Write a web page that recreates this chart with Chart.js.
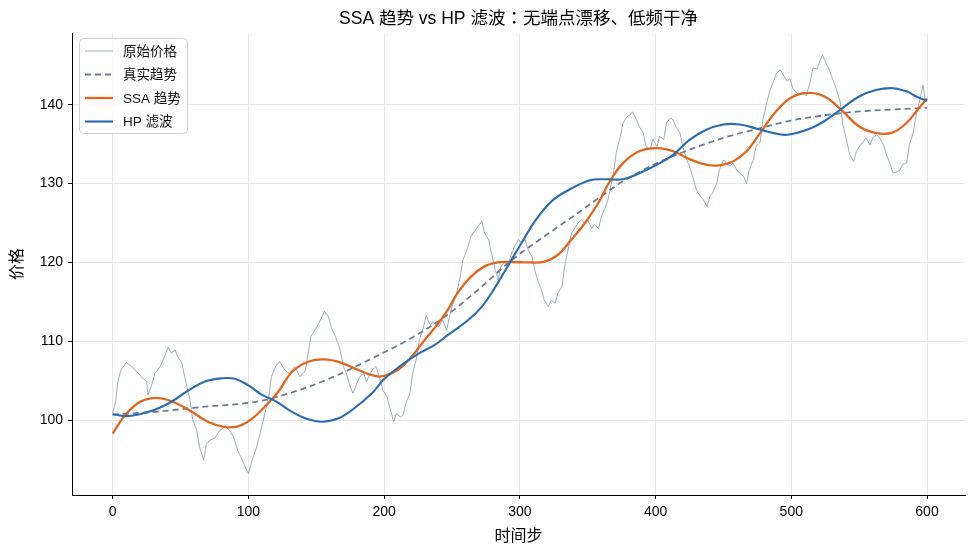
<!DOCTYPE html>
<html>
<head>
<meta charset="utf-8">
<title>SSA 趋势 vs HP 滤波</title>
<script src="https://cdn.jsdelivr.net/npm/chart.js@4.4.1/dist/chart.umd.min.js"></script>
<style>
  html, body { margin: 0; padding: 0; background: #fff; }
  #wrap { width: 975px; height: 557px; }
</style>
</head>
<body>
<div id="wrap"><canvas id="chart" width="975" height="557"></canvas></div>
<script>
// 原始价格 (~every 2-3 steps)
const rawSteps = [0,2,4,6,10,14,17,21,25,26,29,31,35,38,41,43,46,48,51,53,57,59,62,64,67,69,72,75,79,83,86,89,92,96,100,102,106,108,111,115,117,120,123,127,130,134,138,142,144,146,149,153,156,159,161,164,167,170,172,175,177,180,182,185,187,191,194,197,199,202,204,207,209,212,214,216,219,221,224,226,229,231,234,236,240,243,246,248,250,253,256,258,261,264,268,272,274,277,279,282,284,286,289,291,294,296,299,301,304,306,309,311,313,316,318,321,323,326,328,331,333,336,338,341,343,345,348,350,353,355,358,360,363,365,366,369,371,374,376,379,381,383,386,388,391,393,396,398,401,403,406,408,411,413,415,418,420,423,425,428,430,433,435,438,440,442,445,447,450,452,455,457,460,462,465,467,469,472,474,477,479,482,484,487,489,492,494,497,499,501,504,506,509,511,514,516,519,521,523,526,528,531,533,536,538,541,543,546,548,551,553,555,558,560,563,565,568,570,573,575,578,580,582,585,587,590,592,595,597,599,600];
const rawPrice = [100.9,102.2,105.1,106.3,107.3,106.8,106.3,105.5,104.9,103.2,104.6,105.9,106.8,108.0,109.3,108.5,108.9,108.0,107.2,105.5,102.5,100.0,98.7,96.6,94.9,97.0,97.5,97.7,98.7,99.2,98.7,97.9,96.2,94.7,93.2,94.5,96.6,97.9,100.0,103.0,105.5,106.8,107.4,106.3,105.9,106.8,105.5,106.3,108.5,110.6,111.4,112.7,113.8,113.1,111.8,110.6,109.3,106.8,106.0,104.2,103.4,104.7,105.5,105.9,104.9,106.3,106.8,105.1,103.8,103.0,101.7,99.8,100.8,100.4,100.6,102.1,103.4,105.9,108.0,110.2,111.8,113.3,112.0,112.5,111.8,112.7,111.4,113.0,114.4,115.7,118.2,120.3,121.6,123.3,124.3,125.2,123.7,122.9,121.2,119.0,117.8,119.5,120.0,119.5,121.2,122.0,122.9,122.5,122.9,121.6,120.7,119.0,117.8,116.5,115.2,114.4,115.2,114.8,116.1,116.9,119.5,122.0,123.7,124.5,125.0,125.4,125.0,125.4,124.3,124.8,124.3,125.8,127.0,128.0,128.8,131.3,133.9,136.0,137.7,138.5,138.7,139.1,138.1,137.2,136.4,134.7,134.3,135.6,134.7,136.0,135.6,137.7,138.3,138.1,137.2,136.4,134.7,133.0,132.2,130.5,129.2,128.4,128.0,127.1,128.4,128.8,130.0,131.7,133.0,132.6,132.2,132.6,131.7,131.3,130.9,130.0,131.7,133.0,134.7,135.2,138.0,140.3,141.7,143.0,144.0,144.4,143.8,143.0,143.3,142.1,141.5,141.3,141.5,141.1,143.0,144.7,144.5,145.5,146.3,145.1,144.4,143.0,142.1,140.4,137.5,135.3,133.7,132.8,134.1,134.9,135.3,135.8,134.9,135.8,136.2,135.8,134.9,133.7,132.4,131.3,131.5,131.7,132.4,132.6,134.9,136.6,138.7,140.8,142.5,140.4,140.6];

// 真实趋势
const trendSteps = [0,31,68,105,120,144,168,193,218,243,269,294,318,343,376,401,425,450,474,500,526,550,575,600];
const trendPrice = [100.7,101.05,101.7,102.3,102.9,104.2,105.9,108.0,110.2,112.9,116.5,120.3,123.3,126.3,130.3,132.6,134.3,135.8,136.9,138.0,138.7,139.15,139.4,139.6];

// SSA 趋势
const ssaSteps = [0,9,19,28,36,46,58,70,82,92,102,112,122,132,144,156,168,181,193,200,210,220,230,240,247,254,264,274,284,294,306,318,328,338,348,358,366,376,388,401,413,425,437,447,457,467,477,489,501,514,526,538,550,563,575,585,592,600];
const ssaPrice = [98.3,100.6,102.2,102.75,102.75,102.2,101.1,99.8,99.15,99.2,100.1,101.7,103.6,106.1,107.4,107.7,107.3,106.35,105.6,105.6,106.35,108.0,110.2,112.3,114.0,116.1,118.2,119.5,120.0,120.05,120.0,120.1,120.95,122.9,125.0,127.6,130.2,132.6,134.1,134.5,134.1,133.1,132.4,132.3,132.8,134.1,136.4,139.2,141.0,141.5,140.9,139.15,137.25,136.4,136.5,137.7,139.15,140.8];

// HP 滤波
const hpSteps = [0,9,19,31,43,56,68,80,90,100,110,120,132,144,154,166,178,191,200,213,225,237,247,262,272,282,291,301,311,323,334,351,364,376,388,401,413,425,437,450,462,474,487,497,514,526,538,550,563,575,585,592,600];
const hpPrice = [100.76,100.5,100.7,101.3,102.3,103.8,104.9,105.3,105.25,104.4,103.2,102.4,101.05,100.1,99.8,100.2,101.5,103.4,105.2,107.0,108.4,109.5,110.8,112.7,114.4,116.9,119.5,122.4,125.2,127.7,129.0,130.4,130.55,130.55,131.3,132.4,133.65,135.55,136.8,137.5,137.5,137.0,136.4,136.2,137.0,138.1,139.6,141.05,141.9,142.1,141.7,141.05,140.5];

const xTicks = [0, 100, 200, 300, 400, 500, 600];
const yTicks = [100, 110, 120, 130, 140];

const chartTitle = 'SSA 趋势 vs HP 滤波：无端点漂移、低频干净';
const FONT = "'Liberation Sans', 'Noto Sans CJK SC', sans-serif";
const TITLE_FONT = "'Liberation Sans', 'Noto Sans CJK JP', sans-serif";

function toPoints(xs, ys) {
    return xs.map((x, i) => ({ x: x, y: ys[i] }));
}

// title centred over the plot area, legend box top-left inside the plot
const decorations = {
    id: 'decorations',
    afterDatasetsDraw(chart) {
        const ctx = chart.ctx;
        const area = chart.chartArea;
        ctx.save();
        ctx.fillStyle = '#000';
        ctx.font = '17.5px ' + TITLE_FONT;
        ctx.textAlign = 'center';
        ctx.textBaseline = 'middle';
        ctx.fillText(chartTitle, (area.left + area.right) / 2, 19);

        const x0 = area.left + 7;
        const y0 = area.top + 5;
        ctx.beginPath();
        ctx.roundRect(x0 + 0.5, y0 + 0.5, 108, 95, 4);
        ctx.fillStyle = 'rgba(255,255,255,0.85)';
        ctx.fill();
        ctx.strokeStyle = '#d0d0d0';
        ctx.lineWidth = 1;
        ctx.stroke();
        ctx.textAlign = 'left';
        chart.data.datasets.forEach((ds, i) => {
            const y = y0 + 13 + i * 23.5;
            ctx.beginPath();
            ctx.setLineDash(ds.borderDash || []);
            ctx.strokeStyle = ds.borderColor;
            ctx.lineWidth = ds.borderWidth;
            ctx.moveTo(x0 + 6, y);
            ctx.lineTo(x0 + 34, y);
            ctx.stroke();
            ctx.setLineDash([]);
            ctx.fillStyle = '#111';
            ctx.font = '13.5px ' + FONT;
            ctx.fillText(ds.label, x0 + 44, y + 1);
        });
        ctx.restore();
    }
};

new Chart(document.getElementById('chart').getContext('2d'), {
    type: 'line',
    data: {
        datasets: [
            { label: '原始价格', data: toPoints(rawSteps, rawPrice), borderColor: 'rgba(120,140,172,0.8)', borderWidth: 0.9, tension: 0, order: 4 },
            { label: '真实趋势', data: toPoints(trendSteps, trendPrice), borderColor: '#6e7a90', borderWidth: 1.8, borderDash: [6, 4], cubicInterpolationMode: 'monotone', order: 3 },
            { label: 'SSA 趋势', data: toPoints(ssaSteps, ssaPrice), borderColor: '#e0661f', borderWidth: 2.3, tension: 0.4, order: 2 },
            { label: 'HP 滤波', data: toPoints(hpSteps, hpPrice), borderColor: '#2b6cb0', borderWidth: 2.1, tension: 0.4, order: 1 }
        ]
    },
    options: {
        responsive: false,
        animation: false,
        devicePixelRatio: 1,
        elements: { point: { radius: 0 } },
        layout: { padding: { left: 0, right: 10, top: 33, bottom: 0 } },
        plugins: {
            legend: { display: false },
            tooltip: { enabled: false },
            title: { display: false }
        },
        scales: {
            x: {
                type: 'linear',
                min: -30,
                max: 628,
                afterBuildTicks: s => { s.ticks = xTicks.map(v => ({ value: v })); },
                afterFit: s => { s.height = 62; },
                grid: { color: '#e8e8e8', tickColor: '#000', tickLength: 4 },
                border: { color: '#000', width: 1 },
                ticks: { color: '#000', font: { family: FONT, size: 14 }, padding: 5, maxRotation: 0 },
                title: { display: true, text: '时间步', color: '#000', font: { family: FONT, size: 16 }, padding: { top: 0, bottom: 11 } }
            },
            y: {
                min: 90.5,
                max: 149.1,
                afterBuildTicks: s => { s.ticks = yTicks.map(v => ({ value: v })); },
                afterFit: s => { s.width = 72; },
                grid: { color: '#e8e8e8', tickColor: '#000', tickLength: 4 },
                border: { color: '#000', width: 1 },
                ticks: { color: '#000', font: { family: FONT, size: 14 }, padding: 5 },
                title: { display: true, text: '价格', color: '#000', font: { family: FONT, size: 16 }, padding: { top: 8, bottom: 0 } }
            }
        }
    },
    plugins: [decorations]
});
</script>
</body>
</html>
